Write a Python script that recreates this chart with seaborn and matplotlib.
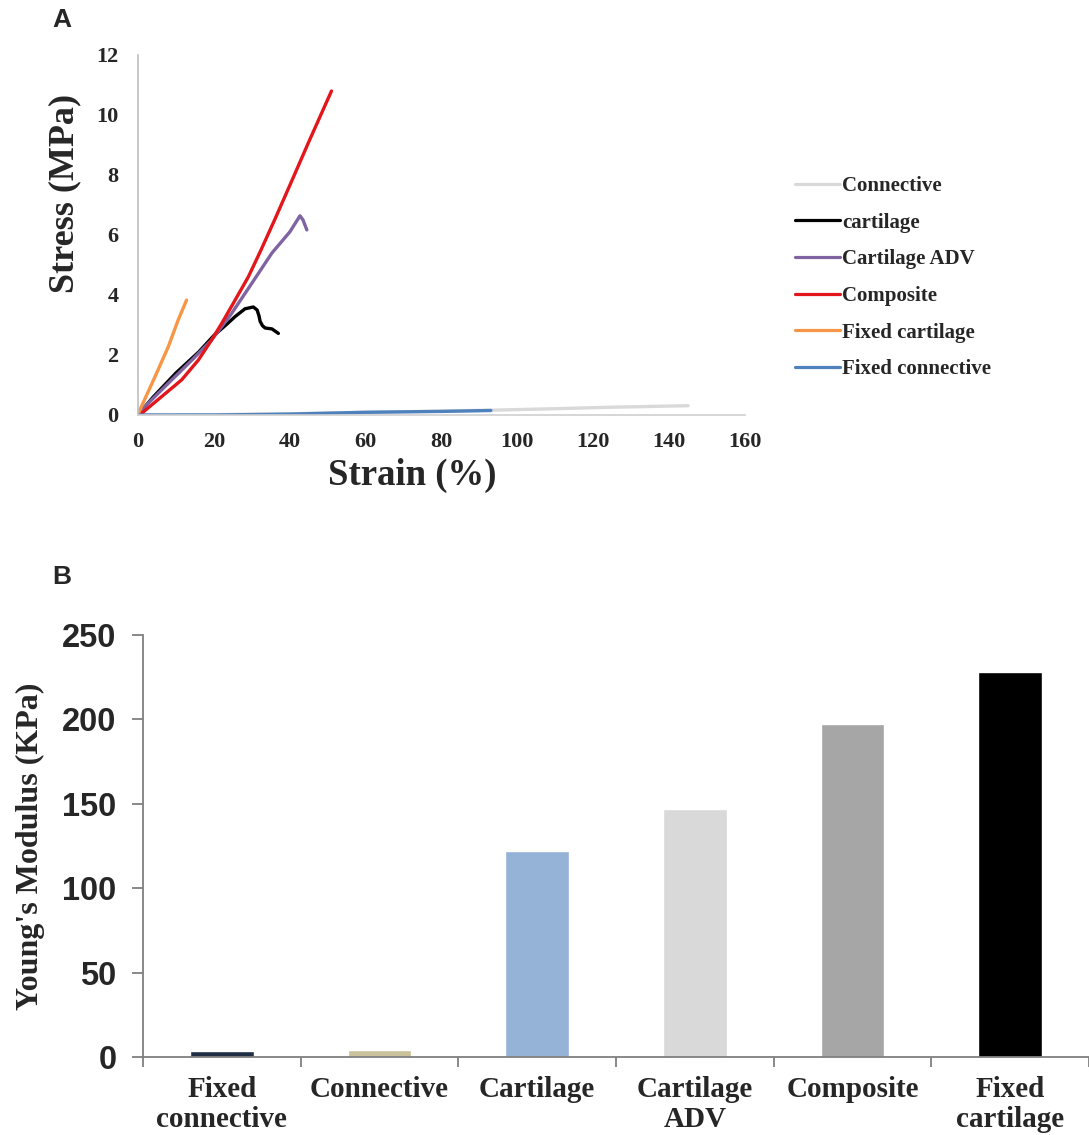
import numpy as np
import pandas as pd
import matplotlib
matplotlib.use("Agg")
import matplotlib.pyplot as plt
import seaborn as sns

# ---------------- Panel A data: stress-strain curves ----------------
connective_x = [0, 20, 40, 60, 80, 93, 110, 125, 145]
connective_y = [0, 0.01, 0.04, 0.09, 0.13, 0.16, 0.21, 0.26, 0.31]

cartilage_x = [0, 4, 10, 16, 20, 23, 25.6, 28.2, 30.4, 31.4, 31.9, 32.2, 32.8, 33.5,
               35.3, 37]
cartilage_y = [0, 0.6, 1.4, 2.1, 2.65, 2.98, 3.28, 3.54, 3.6, 3.5, 3.3, 3.12, 2.98,
               2.9, 2.87, 2.72]

cart_adv_x = [0, 1.8, 8.0, 14.2, 19.4, 24.7, 30, 35.3, 40, 42.7, 43.5, 44.5]
cart_adv_y = [0, 0.28, 1.06, 1.83, 2.5, 3.39, 4.39, 5.4, 6.1, 6.64, 6.5, 6.17]

composite_x = [0, 1, 6.2, 11.5, 15.9, 19.4, 22.1, 25.6, 29.1, 32.2, 36, 40, 45, 51]
composite_y = [0, 0.06, 0.61, 1.17, 1.83, 2.5, 3.06, 3.83, 4.61, 5.44, 6.5, 7.65, 9.1, 10.8]

fixed_cart_x = [0, 0.5, 4.5, 8.0, 10.6, 12.8]
fixed_cart_y = [0, 0.17, 1.28, 2.28, 3.17, 3.83]

fixed_conn_x = [0, 20, 40, 50, 60, 80, 93]
fixed_conn_y = [0, 0.0, 0.03, 0.06, 0.09, 0.12, 0.15]

series_names = ["Connective", "cartilage", "Cartilage ADV", "Composite",
                "Fixed cartilage", "Fixed connective"]
series_colors = ["#d9d9d9", "#000000", "#8064a2", "#e3161b", "#f79646", "#4f81bd"]

# ---------------- Panel B data: Young's modulus ----------------
categories = ["Fixed\nconnective", "Connective", "Cartilage", "Cartilage\nADV",
              "Composite", "Fixed\ncartilage"]
modulus = [3.4, 4.0, 122, 147, 197, 228]
bar_colors = ["#1f2d45", "#c9c19a", "#95b3d7", "#d9d9d9", "#a6a6a6", "#000000"]

# ---------------------------------------------------------------
sns.set_style("white")
serif = ["Liberation Serif", "DejaVu Serif"]
sans = ["Liberation Sans", "DejaVu Sans"]

fig = plt.figure(figsize=(10.89, 11.35), dpi=100)
W, H = 1089, 1135

# Panel A axes
axA = fig.add_axes([138 / W, 1 - 415 / H, 607 / W, 360 / H])
xs = [connective_x, cartilage_x, cart_adv_x, composite_x, fixed_cart_x, fixed_conn_x]
ys = [connective_y, cartilage_y, cart_adv_y, composite_y, fixed_cart_y, fixed_conn_y]
frames = []
for name, x, y in zip(series_names, xs, ys):
    frames.append(pd.DataFrame({"Strain": x, "Stress": y, "Series": name}))
dfA = pd.concat(frames, ignore_index=True)

sns.lineplot(data=dfA, x="Strain", y="Stress", hue="Series", hue_order=series_names,
             palette=dict(zip(series_names, series_colors)), sort=False,
             estimator=None, linewidth=2.4, ax=axA)
for ln in axA.get_lines():
    ln.set_solid_joinstyle("round")
    ln.set_solid_capstyle("round")
axA.set_xlim(0, 160)
axA.set_ylim(0, 12)
axA.set_xticks(np.arange(0, 161, 20))
axA.set_yticks(np.arange(0, 13, 2))
for s in ["top", "right"]:
    axA.spines[s].set_visible(False)
axA.spines["left"].set_color("#bfbfbf")
axA.spines["bottom"].set_color("#d0d0d0")
axA.spines["left"].set_linewidth(1.2)
axA.spines["bottom"].set_linewidth(1.2)
axA.tick_params(axis="both", length=0)
axA.tick_params(axis="y", pad=14)
axA.tick_params(axis="x", pad=12)
for lab in axA.get_xticklabels() + axA.get_yticklabels():
    lab.set_family(serif)
    lab.set_fontweight("bold")
    lab.set_fontsize(16)
axA.set_xlabel("Strain (%)", family=serif, fontweight="bold", fontsize=26.5)
axA.set_ylabel("Stress (MPa)", family=serif, fontweight="bold", fontsize=26)
axA.xaxis.set_label_coords(0.5 * (328 + 497 - 2 * 138) / 607, -0.12)
axA.yaxis.set_label_coords(-0.094, (415 - 193) / 360)

leg = axA.legend(loc="upper left", bbox_to_anchor=(795 / W, 1 - 176 / H),
                 bbox_transform=fig.transFigure, frameon=False,
                 prop={"family": serif, "weight": "bold", "size": 15},
                 handlelength=2.15, handletextpad=0.1, labelspacing=0.8,
                 borderpad=0, borderaxespad=0)
for line in leg.get_lines():
    line.set_linewidth(2.3)

# Panel B axes
axB = fig.add_axes([143 / W, 1 - 1057 / H, 946 / W, 422 / H])
dfB = pd.DataFrame({"Category": categories, "Modulus": modulus})
sns.barplot(data=dfB, x="Category", y="Modulus", hue="Category", order=categories,
            hue_order=categories, palette=dict(zip(categories, bar_colors)),
            width=0.405, legend=False, ax=axB, saturation=1)
axB.set_xlim(-0.5, 5.5)
axB.set_ylim(0, 250)
axB.set_yticks(np.arange(0, 251, 50))
for s in ["top", "right"]:
    axB.spines[s].set_visible(False)
axB.spines["left"].set_color("#7f7f7f")
axB.spines["bottom"].set_color("#7f7f7f")
axB.spines["left"].set_linewidth(1.3)
axB.spines["bottom"].set_linewidth(1.3)
axB.set_xticks(np.arange(-0.5, 6, 1), minor=True)
axB.tick_params(axis="x", which="major", length=0, pad=14)
axB.tick_params(axis="x", which="minor", length=7, width=1.3, color="#7f7f7f",
                direction="out", bottom=True)
axB.tick_params(axis="y", length=8, width=1.3, color="#7f7f7f", direction="out",
                left=True, pad=11)
for lab in axB.get_yticklabels():
    lab.set_family(sans)
    lab.set_fontweight("bold")
    lab.set_fontsize(23.5)
for lab in axB.get_xticklabels():
    lab.set_family(serif)
    lab.set_fontweight("bold")
    lab.set_fontsize(21)
    lab.set_linespacing(1.12)
axB.set_xlabel("")
axB.set_ylabel("Young's Modulus (KPa)", family=serif, fontweight="bold", fontsize=23)
axB.yaxis.set_label_coords(-0.1036, 0.5)

fig.text(62 / W, 1 - 20 / H, "A", family=sans, fontweight="bold", fontsize=19,
         ha="center", va="center")
fig.text(62 / W, 1 - 577 / H, "B", family=sans, fontweight="bold", fontsize=19,
         ha="center", va="center")

fig.savefig("out.png", dpi=100, facecolor="white")
